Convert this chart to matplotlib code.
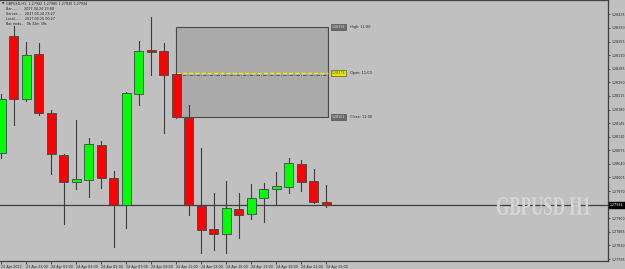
import matplotlib
matplotlib.use("Agg")
import matplotlib.pyplot as plt
from matplotlib.patches import Rectangle, PathPatch
from matplotlib.textpath import TextPath
from matplotlib.font_manager import FontProperties
from matplotlib.transforms import Affine2D
import matplotlib.transforms as mtrans

# ---- data (GBPUSD H1) ----
times = ["21 Apr 21:00", "21 Apr 22:00", "21 Apr 23:00", "24 Apr 00:00", "24 Apr 01:00",
         "24 Apr 02:00", "24 Apr 03:00", "24 Apr 04:00", "24 Apr 05:00", "24 Apr 06:00",
         "24 Apr 07:00", "24 Apr 08:00", "24 Apr 09:00", "24 Apr 10:00", "24 Apr 11:00",
         "24 Apr 12:00", "24 Apr 13:00", "24 Apr 14:00", "24 Apr 15:00", "24 Apr 16:00",
         "24 Apr 17:00", "24 Apr 18:00", "24 Apr 19:00", "24 Apr 20:00", "24 Apr 21:00",
         "24 Apr 22:00", "24 Apr 23:00"]
opens  = [1.28068, 1.28369, 1.28207, 1.28323, 1.28171, 1.28063, 1.27993, 1.27998, 1.28088,
          1.28003, 1.27934, 1.28220, 1.28333, 1.28330, 1.28271, 1.28158, 1.27931, 1.27872,
          1.27859, 1.27924, 1.27911, 1.27952, 1.27975, 1.27980, 1.28040, 1.27996, 1.27942]
highs  = [1.28220, 1.28395, 1.28353, 1.28351, 1.28178, 1.28065, 1.28153, 1.28106, 1.28099,
          1.28021, 1.28224, 1.28356, 1.28418, 1.28351, 1.28274, 1.28191, 1.28081, 1.27965,
          1.27996, 1.27965, 1.27988, 1.27991, 1.28019, 1.28055, 1.28050, 1.28027, 1.27985]
lows   = [1.28055, 1.28140, 1.28202, 1.28166, 1.28014, 1.27885, 1.27975, 1.27955, 1.27978,
          1.27826, 1.27875, 1.28191, 1.28269, 1.28119, 1.28158, 1.27908, 1.27810, 1.27818,
          1.27810, 1.27849, 1.27898, 1.27890, 1.27937, 1.27965, 1.27970, 1.27939, 1.27930]
closes = [1.28207, 1.28207, 1.28320, 1.28171, 1.28065, 1.27993, 1.28001, 1.28091, 1.28003,
          1.27934, 1.28222, 1.28330, 1.28328, 1.28269, 1.28161, 1.27934, 1.27870, 1.27859,
          1.27926, 1.27908, 1.27952, 1.27975, 1.27983, 1.28042, 1.27993, 1.27942, 1.27934]

xtick_idx = [0, 2, 4, 6, 8, 10, 12, 14, 16, 18, 20, 22, 24, 26]
xtick_labels = ["21 Apr 2017", "21 Apr 23:00", "24 Apr 01:00", "24 Apr 03:00", "24 Apr 05:00",
                "24 Apr 07:00", "24 Apr 09:00", "24 Apr 11:00", "24 Apr 13:00", "24 Apr 15:00",
                "24 Apr 17:00", "24 Apr 19:00", "24 Apr 21:00", "24 Apr 23:00"]
ytick_vals = [1.28425, 1.28390, 1.28355, 1.28320, 1.28285, 1.28250, 1.28215, 1.28180,
              1.28145, 1.28110, 1.28075, 1.28040, 1.28005, 1.27970, 1.27900, 1.27865,
              1.27830, 1.27795]
bid = 1.27934
box_high, box_open, box_close = 1.28392, 1.28274, 1.28161
box_start, box_end = 14, 26.1
header = ["GBPUSD,H1  1.27942 1.27985 1.27930 1.27934",
          "Bar.........  2017.04.24 23:00",
          "Server.....  2017.04.24 23:27",
          "Local.......  2017.04.25 00:27",
          "Bar ends...  0h 32m 39s"]

BG = "#C0C0C0"
W, H = 625, 269
fig = plt.figure(figsize=(W / 100, H / 100), dpi=100, facecolor=BG)
ax = fig.add_axes([0, 8 / H, 608 / W, 1 - 8 / H])
ax.set_facecolor(BG)
ax.set_xlim(-0.104, 48.54)
ax.set_ylim(1.27790, 1.28462)

# range box
ax.add_patch(Rectangle((box_start, box_close), box_end - box_start, box_high - box_close,
                       facecolor="#AAAAAA", edgecolor="#4A4A4A", lw=0.8, zorder=1))
ax.plot([box_start, box_end], [box_open - 0.00004] * 2, color="#505050", lw=0.6,
        ls=(0, (4, 1.5, 1, 1.5)), zorder=2)
ax.plot([box_start, box_end], [box_open] * 2, color="#EEEE00", lw=1.0,
        ls=(0, (3, 1.5)), zorder=2)

# bid line
ax.axhline(bid, color="#404040", lw=0.9, zorder=2)

# candles
bw = 0.72
for i in range(len(times)):
    o, h, l, c = opens[i], highs[i], lows[i], closes[i]
    up = c >= o
    ax.plot([i, i], [l, h], color="#3C3C3C", lw=0.8, zorder=3)
    lo, hi = min(o, c), max(o, c)
    ax.add_patch(Rectangle((i - bw / 2, lo), bw, max(hi - lo, 0.000012),
                           facecolor="#00FF00" if up else "#FF0000",
                           edgecolor="#3A4A4A", lw=0.6, zorder=4))

# box labels
for val, name, fc, tc in [(box_high, "High: 11:00", "#6A6A6A", "#E0E0E0"),
                          (box_open, "Open: 11:00", "#E6E600", "#505050"),
                          (box_close, "Close: 11:00", "#6A6A6A", "#E0E0E0")]:
    ax.text(26.45, val, f"{val:.5f}", fontsize=2.3, color=tc, va="center", ha="left",
            bbox=dict(boxstyle="square,pad=0.3", fc=fc, ec="#404040", lw=0.4), zorder=6)
    ax.text(27.9, val, name, fontsize=2.5, color="#202020", va="center", ha="left", zorder=6)

# spines / ticks
ax.spines["left"].set_visible(False)
for s in ["right", "bottom", "top"]:
    ax.spines[s].set_color("#404040")
    ax.spines[s].set_linewidth(0.9)
ax.yaxis.tick_right()
ax.set_yticks(ytick_vals)
ax.set_yticklabels([f"{v:.5f}" for v in ytick_vals])
ax.tick_params(axis="y", labelsize=2.3, length=1.5, width=0.5, pad=0.8, colors="#202020")
ax.set_xticks(xtick_idx)
ax.set_xticklabels(xtick_labels)
ax.tick_params(axis="x", labelsize=2.4, length=2, width=0.5, pad=0.8, colors="#202020")
for lab in ax.get_xticklabels():
    lab.set_ha("left")

# bid price label on the axis
ax.text(1.003, bid, f"{bid:.5f}", transform=mtrans.blended_transform_factory(ax.transAxes, ax.transData),
        fontsize=2.3, color="white", va="center", ha="left",
        bbox=dict(boxstyle="square,pad=0.35", fc="black", ec="black"), clip_on=False, zorder=7)

# header text
ys = [4, 9.3, 14.3, 19.2, 24]
fig.text(2 / W, 1 - 4 / H, "\u25bc", fontsize=2.2, color="#202020", va="center", ha="left")
for k, line in enumerate(header):
    fig.text(6 / W, 1 - ys[k] / H, line, fontsize=2.4, color="#202020", va="center", ha="left")

# watermark (condensed bold serif)
fp = FontProperties(family="Liberation Serif", weight="bold")
tp = TextPath((0, 0), "GBPUSD H1", size=10, prop=fp)
ext = tp.get_extents()
sx = 93 / ext.width
sy = 18 / ext.height
tr = Affine2D().translate(-ext.x0, -ext.y0).scale(sx, sy).translate(497, H - 215)
fig.patches.append(PathPatch(tr.transform_path(tp), facecolor="#D6D6D6", edgecolor="none",
                             transform=mtrans.IdentityTransform(), figure=fig))

fig.savefig("out.png", dpi=100, facecolor=BG)
